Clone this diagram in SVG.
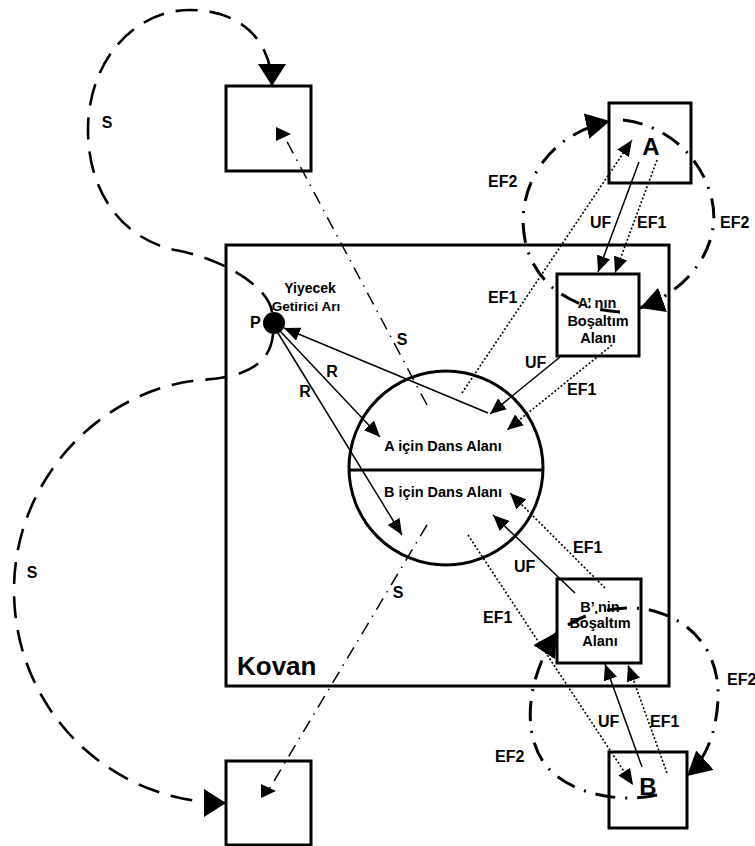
<svg xmlns="http://www.w3.org/2000/svg" width="755" height="846" viewBox="0 0 755 846">
<style>
.box{fill:none;stroke:#000;stroke-width:3}
.t{font-family:"Liberation Sans",Arial,sans-serif;font-weight:bold;fill:#000}
.lbl{font-size:16px}
.sm{font-size:14.5px;text-anchor:middle}
.thin{fill:none;stroke:#000;stroke-width:1.5}
.dot{fill:none;stroke:#000;stroke-width:1.6;stroke-dasharray:2 2}
.sdash{fill:none;stroke:#000;stroke-width:2.6;stroke-dasharray:22 12}
.sdd{fill:none;stroke:#000;stroke-width:1.5;stroke-dasharray:13 7 1.5 7}
.ef2{fill:none;stroke:#000;stroke-width:3;stroke-dasharray:20 10 2 10}
</style>
<defs>
<marker id="ah" viewBox="0 0 16 14" refX="16" refY="7" markerWidth="16" markerHeight="14" markerUnits="userSpaceOnUse" orient="auto"><path d="M0,0 L16,7 L0,14 z" fill="#000"/></marker>
<marker id="ahL" viewBox="0 0 24 26" refX="24" refY="13" markerWidth="24" markerHeight="26" markerUnits="userSpaceOnUse" orient="auto"><path d="M0,0 L24,13 L0,26 z" fill="#000"/></marker>
<marker id="ahS" viewBox="0 0 22 28" refX="22" refY="14" markerWidth="22" markerHeight="28" markerUnits="userSpaceOnUse" orient="auto"><path d="M0,0 L22,14 L0,28 z" fill="#000"/></marker>
<marker id="tri" viewBox="0 0 15 14" refX="7" refY="7" markerWidth="15" markerHeight="14" markerUnits="userSpaceOnUse" orient="0"><path d="M0,0 L15,7 L0,14 z" fill="#000"/></marker>
</defs>
<rect width="755" height="846" fill="#fff"/>

<g id="kovan">
<rect class="box" x="226" y="245" width="443" height="441"/>
<text class="t" x="237" y="675" font-size="26">Kovan</text>
</g>
<g id="box-top-left"><rect class="box" x="226" y="86" width="85" height="85"/></g>
<g id="box-bottom-left"><rect class="box" x="226" y="761" width="85" height="84"/></g>
<g id="box-A">
<rect class="box" x="609" y="103" width="82" height="80"/>
<text class="t" x="651" y="155" font-size="24" text-anchor="middle">A</text>
</g>
<g id="box-A-bosaltim">
<rect class="box" x="557" y="274" width="82" height="82"/>
<text class="t sm" x="597" y="308">A’ nın</text>
<text class="t sm" x="598" y="326">Boşaltım</text>
<text class="t sm" x="598" y="343">Alanı</text>
</g>
<g id="box-B-bosaltim">
<rect class="box" x="557" y="579" width="84" height="84"/>
<text class="t sm" x="600" y="612">B’ nin</text>
<text class="t sm" x="600" y="628">Boşaltım</text>
<text class="t sm" x="600" y="646">Alanı</text>
</g>
<g id="box-B">
<rect class="box" x="609" y="752" width="78" height="76"/>
<text class="t" x="648" y="795" font-size="24" text-anchor="middle">B</text>
</g>
<g id="dance">
<circle cx="446" cy="468" r="97" fill="none" stroke="#000" stroke-width="3"/>
<line x1="349" y1="470" x2="543" y2="470" stroke="#000" stroke-width="3"/>
<text class="t sm" x="443" y="451">A için Dans Alanı</text>
<text class="t sm" x="443" y="497">B için Dans Alanı</text>
</g>
<g id="bee">
<circle cx="274" cy="323" r="11" fill="#000"/>
<text class="t" x="250" y="328" font-size="16">P</text>
<text class="t" x="310" y="293" font-size="14" text-anchor="middle">Yiyecek</text>
<text class="t" x="306" y="311" font-size="13.5" text-anchor="middle">Getirici Arı</text>
</g>

<g id="connectors">
<path class="sdash" d="M272,312 C268,285 220,258 175,250 C120,238 88,190 88,130 C88,60 135,10 190,10 C245,10 272,45 272,86" marker-end="url(#ahS)"/>
<path class="sdash" d="M273,334 C270,370 235,378 200,380 C100,390 14,480 14,590 C14,710 110,803 226,803" marker-end="url(#ahS)"/>
<path class="sdd" d="M427,405 L283,134" marker-end="url(#tri)"/>
<path class="sdd" d="M427,525 L268,791" marker-end="url(#tri)"/>
<path class="thin" d="M488,413 L284,328" marker-end="url(#ah)"/>
<path class="thin" d="M280,331 L380,437" marker-end="url(#ah)"/>
<path class="thin" d="M278,333 L402,535" marker-end="url(#ah)"/>
<path class="thin" d="M639,162 L598,272" marker-end="url(#ah)"/>
<path class="dot" d="M657,160 L615,273" marker-end="url(#ah)"/>
<path class="dot" d="M462,393 L632,140" marker-end="url(#ah)"/>
<path class="thin" d="M560,357 L490,414" marker-end="url(#ah)"/>
<path class="dot" d="M612,345 L507,430" marker-end="url(#ah)"/>
<path class="ef2" d="M620,312 C580,310 535,290 525,240 C515,190 545,135 610,121" marker-end="url(#ahL)"/>
<path class="ef2" d="M623,120 C660,124 700,150 712,200 C722,245 690,290 640,308" marker-end="url(#ahL)"/>
<path class="thin" d="M575,593 L493,515" marker-end="url(#ah)"/>
<path class="dot" d="M605,588 L510,493" marker-end="url(#ah)"/>
<path class="dot" d="M468,535 L633,785" marker-end="url(#ah)"/>
<path class="thin" d="M642,767 L605,664" marker-end="url(#ah)"/>
<path class="dot" d="M667,773 L628,665" marker-end="url(#ah)"/>
<path class="ef2" d="M657,795 C620,803 575,795 550,770 C525,745 520,690 557,632" marker-end="url(#ahL)"/>
<path class="ef2" d="M568,625 C590,610 630,603 657,612 C700,625 720,660 718,700 C716,735 705,760 687,776" marker-end="url(#ahL)"/>
</g>

<g id="labels">
<text class="t lbl" x="107" y="128" text-anchor="middle">S</text>
<text class="t lbl" x="32" y="578" text-anchor="middle">S</text>
<text class="t lbl" x="402" y="345" text-anchor="middle">S</text>
<text class="t lbl" x="398" y="598" text-anchor="middle">S</text>
<text class="t lbl" x="332" y="377" text-anchor="middle">R</text>
<text class="t lbl" x="305" y="397" text-anchor="middle">R</text>
<text class="t lbl" x="488" y="187">EF2</text>
<text class="t lbl" x="720" y="228">EF2</text>
<text class="t lbl" x="590" y="228">UF</text>
<text class="t lbl" x="637" y="228">EF1</text>
<text class="t lbl" x="488" y="303">EF1</text>
<text class="t lbl" x="525" y="368">UF</text>
<text class="t lbl" x="567" y="395">EF1</text>
<text class="t lbl" x="573" y="553">EF1</text>
<text class="t lbl" x="514" y="572">UF</text>
<text class="t lbl" x="483" y="623">EF1</text>
<text class="t lbl" x="598" y="727">UF</text>
<text class="t lbl" x="650" y="727">EF1</text>
<text class="t lbl" x="495" y="762">EF2</text>
<text class="t lbl" x="727" y="685">EF2</text>
</g>
</svg>
